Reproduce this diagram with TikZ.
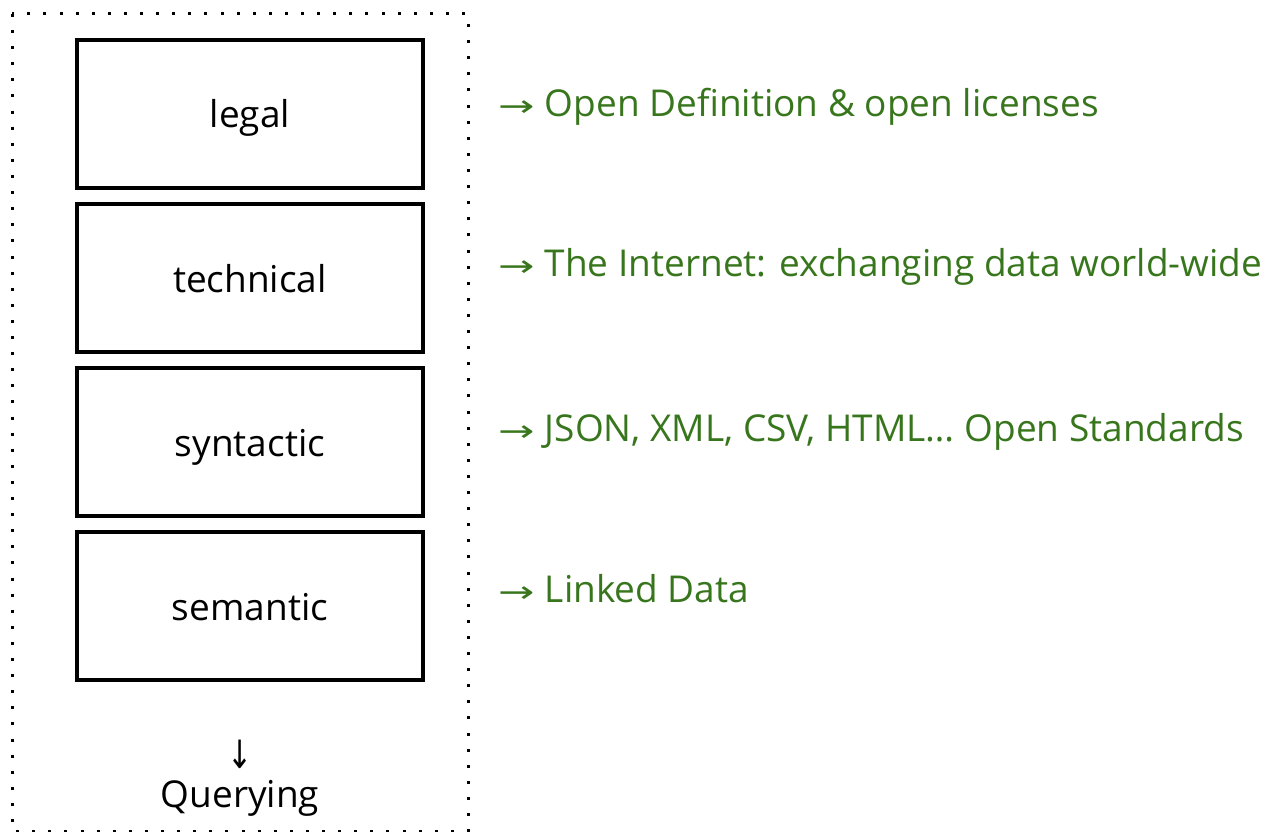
\documentclass[tikz,border=0pt]{standalone}
\usepackage{fontspec}
\setmainfont{Open Sans}
\newfontfamily\arrowfont{DejaVu Sans}
\usetikzlibrary{positioning}
\definecolor{darkgreen}{HTML}{38761D}
\newcommand{\rarr}{\makebox[37pt][l]{\scalebox{1.45}[1]{\arrowfont\fontsize{30}{36}\selectfont →}}}
\newcommand{\darr}{\scalebox{1}[1.3]{\arrowfont\fontsize{30}{36}\selectfont ↓}}
\tikzset{
	layer/.style={draw=black, line width=3.5pt, minimum width=346pt, minimum height=148pt, inner sep=0pt, text height=28pt, text depth=0pt, font=\fontsize{37}{44}\selectfont},
	note/.style={anchor=base west, text=darkgreen, inner sep=0pt, font=\fontsize{37}{44}\selectfont}
}
\begin{document}
\begin{tikzpicture}[x=1pt, y=-1pt]
				\useasboundingbox (0, 0) rectangle (1270, 832);
				\draw[line width=3pt, dash pattern=on 3pt off 13.1pt] (12, 14) rectangle (468, 831);
				
				\node[layer] (legal) at (250, 114) {legal};
				\node[layer] (technical) at (250, 278) {technical};
				\node[layer] (syntactic) at (250, 442) {syntactic};
				\node[layer] (semantic) at (250, 606) {semantic};
				
				\node[note] (legalnote) at (498, 117) {\rarr{} Open Definition \& open licenses};
				\node[note] (technote) at (498, 276) {\rarr{} The Internet: exchanging data world-wide};
				\node[note] (syntnote) at (498, 441) {\rarr{} JSON, XML, CSV, HTML… Open Standards};
				\node[note] (semnote) at (498, 602) {\rarr{} Linked Data};
				
				\node[inner sep=0pt] (down) at (240, 754) {\darr};
				\node[inner sep=0pt, anchor=base, font=\fontsize{37}{44}\selectfont] (querying) at (240, 807) {Querying};
			\end{tikzpicture}
\end{document}
